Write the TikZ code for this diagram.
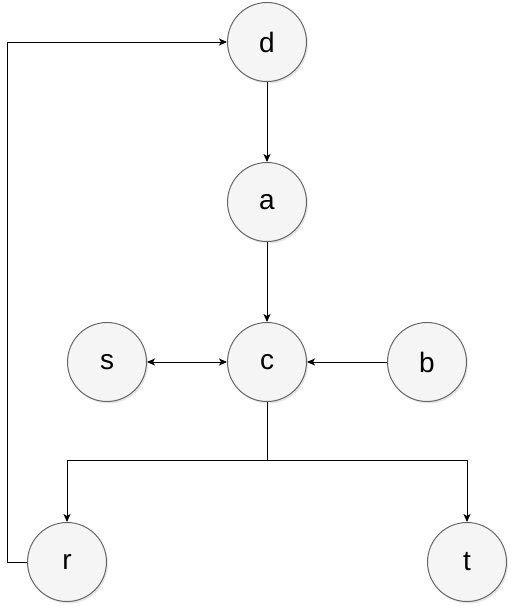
\documentclass[tikz,border=0pt]{standalone}
\usepackage{fontspec}
\setmainfont{Liberation Sans}
\usetikzlibrary{shadows,arrows.meta}

\begin{document}
\begin{tikzpicture}[x=1pt,y=-1pt,>={Stealth[length=8pt,width=7pt,inset=2pt]},
  vertex/.style={circle,draw=black!60,line width=1pt,fill=black!4,minimum size=79pt,inner sep=0pt,
    font=\fontsize{28}{32}\selectfont,
    drop shadow={shadow xshift=1.5pt,shadow yshift=-2pt,opacity=0.2}},
  edge/.style={draw=black,line width=1pt}]

\useasboundingbox (0,0) rectangle (511,606);

\coordinate (cD) at (267,42);
\coordinate (cA) at (267,202);
\coordinate (cC) at (267,362);
\coordinate (cS) at (107,362);
\coordinate (cB) at (427,362);
\coordinate (cR) at (67,562);
\coordinate (cT) at (467,562);
\coordinate (split) at (267,460);
\coordinate (back) at (7,562);

\node[vertex] (D) at (cD) {d};
\node[vertex] (A) at (cA) {a};
\node[vertex] (C) at (cC) {c};
\node[vertex] (S) at (cS) {s};
\node[vertex] (B) at (cB) {b};
\node[vertex] (R) at (cR) {r};
\node[vertex] (T) at (cT) {t};

\draw[edge,->] (D) -- (A);
\draw[edge,->] (A) -- (C);
\draw[edge,->] (B) -- (C);
\draw[edge,<->] (S) -- (C);
\draw[edge] (C) -- (split);
\draw[edge,->] (split) -| (R);
\draw[edge,->] (split) -| (T);
\draw[edge] (R) -- (back);
\draw[edge,->] (back) |- (D);

\end{tikzpicture}
\end{document}
